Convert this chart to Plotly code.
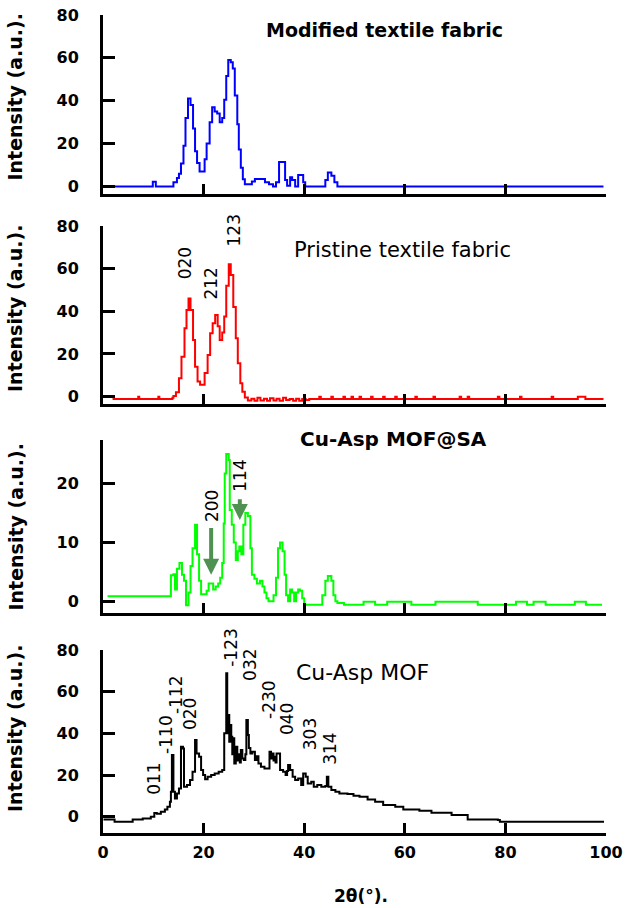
import plotly.graph_objects as go

# ---------------- data ----------------
blue_x = [1.9, 9.9, 10.5, 13.5, 14.0, 14.7, 15.1, 15.5, 16.0, 16.4, 16.9, 17.4, 17.9, 18.3, 18.7,
          19.2, 19.8, 20.2, 20.6, 21.2, 21.7, 22.2, 22.7, 23.2, 23.7, 24.1, 24.5, 24.9, 25.4, 25.8,
          26.2, 26.7, 27.0, 27.4, 27.8, 28.2, 29.0, 29.6, 30.2, 31.4, 32.2, 33.0, 33.8, 34.4, 35.0,
          35.8, 36.2, 36.6, 37.2, 37.6, 38.2, 38.8, 39.4, 39.8, 40.2, 43.8, 44.2, 44.7, 45.4, 46.0,
          46.6, 99.5]
blue_y = [0, 2.2, 0, 0, 2, 4, 6, 10.7, 19, 32, 41, 38, 27, 16.5, 11,
          7, 7, 12.7, 20, 30, 37, 35, 34, 30, 32, 40.5, 51.6, 59, 58, 55,
          42.5, 29, 17.3, 8.8, 3.4, 1, 1, 2.3, 3.5, 3.5, 2, 1, 0, 2, 11.4,
          11.4, 3, 0.3, 4.3, 3, 0, 5.4, 5.4, 2, 0, 0, 3, 6.5, 5, 2,
          0, 0]

red_x = [1.9, 7.0, 7.2, 11.0, 11.2, 13.8, 14.0, 14.5, 15.1, 15.6, 16.2, 16.6, 17.0, 17.4, 17.9,
         18.3, 18.8, 19.3, 20.2, 20.8, 21.3, 21.8, 22.3, 22.8, 23.2, 23.7, 24.1, 24.5, 25.0, 25.4,
         25.9, 26.4, 26.8, 27.3, 27.7, 28.2, 28.8, 29.5, 30.1, 30.7, 31.3, 32.0, 32.6, 33.2, 33.9,
         34.5, 35.1, 35.8, 36.4, 37.1, 37.8, 38.4, 39.0, 39.6, 40.3, 41.0, 43.0, 43.3, 45.4, 45.7,
         47.8, 48.1, 49.4, 49.7, 51.0, 51.3, 53.3, 53.6, 55.7, 56.0, 58.1, 58.4, 62.1, 62.4, 65.7,
         66.0, 70.9, 71.2, 72.5, 72.8, 78.5, 78.8, 82.9, 83.2, 89.2, 89.5, 94.4, 95.6, 95.9, 99.5]
red_y = [-1.2, -0.1, -1.2, -0.1, -1.2, -0.6, 0.2, 2, 8.6, 18.7, 32, 40.6, 46, 40.6, 26.5,
         14, 7, 5.5, 11, 19.5, 29.7, 34.4, 38.3, 33, 26.5, 30, 37.5, 52, 62, 57,
         42, 27.3, 15.6, 6.2, 2.3, -0.5, -1.8, -1, -2, -0.6, -1.8, -1, -2, -0.8, -1.8,
         -1, -2, -0.6, -1.6, -1.2, -2, -1, -2, -1.2, -1.6, -1.2, -0.1, -1.2, -0.1, -1.2,
         -0.1, -1.2, -0.1, -1.2, -0.1, -1.2, -0.1, -1.2, -0.1, -1.2, -0.1, -1.2, -0.1, -1.2, -0.1,
         -1.2, -0.1, -1.2, -0.1, -1.2, -0.1, -1.2, -0.1, -1.2, -0.1, -1.2, -0.1, -0.1, -1.2, -1.2]

green_x = [0.9, 13.2, 13.5, 14.0, 14.3, 14.7, 15.2, 15.7, 16.1, 16.5, 17.0, 17.4, 17.8, 18.3, 18.7,
           19.1, 19.5, 20.2, 20.6, 21.0, 21.5, 21.9, 22.4, 22.9, 23.3, 23.7, 24.0, 24.2, 24.5, 25.0,
           25.2, 25.6, 26.0, 26.4, 26.8, 27.1, 27.5, 27.9, 28.3, 28.8, 29.3, 29.6, 30.1, 30.6, 31.2,
           31.7, 32.1, 32.5, 32.9, 33.9, 34.4, 34.8, 35.2, 35.7, 36.1, 36.4, 36.8, 37.2, 37.6, 38.0,
           38.4, 38.8, 39.2, 39.6, 40.0, 43.0, 43.6, 44.2, 44.7, 45.4, 45.8, 46.2, 46.6, 47.9, 51.4,
           51.8, 53.7, 54.1, 56.1, 56.5, 60.9, 61.3, 65.7, 66.1, 74.1, 74.5, 81.7, 82.1, 83.7, 84.3,
           85.2, 85.6, 87.6, 88.0, 93.4, 93.8, 95.6, 96.0, 99.2]
green_y = [0.85, 0.85, 4.4, 4.6, 2, 5.5, 6.5, 4.5, 3.5, -0.7, 1.5, 6, 9, 13, 8,
           3.5, 1.2, 1.2, 1.8, 3, 3, 2, 2.5, 3, 4, 6.5, 13.2, 21.7, 25, 24,
           15.5, 13, 10, 7, 8.5, 9.3, 8, 13, 15, 14.5, 9, 4.5, 3.8, 3, 3.5,
           2.5, 1.5, 0.5, 0, 1, 4, 9, 10, 8.5, 4.5, 1, 0, 2, 1.5, 0,
           1.5, 2, 1.8, 0.5, -0.6, -0.6, 1, 3.5, 4.3, 3.5, 1, 0, -0.3, -0.6, -0.6,
           -0.1, -0.1, -0.6, -0.6, -0.1, -0.1, -0.6, -0.6, -0.1, -0.1, -0.6, -0.6, -0.1, -0.1, -0.6,
           -0.6, -0.1, -0.1, -0.6, -0.6, -0.1, -0.1, -0.6, -0.6]

black_x = [0.1, 2.3, 5.9, 7.9, 9.5, 10.2, 10.7, 11.5, 12.3, 12.8, 13.3, 13.5, 13.7, 14.0, 14.3,
           14.7, 15.1, 15.5, 15.9, 16.1, 16.7, 17.3, 17.8, 18.3, 18.6, 19.1, 19.5, 19.9, 20.3, 20.8,
           21.5, 22.2, 23.0, 23.7, 24.1, 24.5, 24.7, 24.9, 25.1, 25.3, 25.5, 25.7, 25.9, 26.1, 26.4,
           26.7, 26.9, 27.2, 27.4, 27.7, 28.0, 28.3, 28.5, 28.8, 29.0, 29.3, 29.7, 30.2, 30.5, 30.9,
           31.4, 32.1, 32.8, 33.1, 33.4, 33.6, 33.9, 34.1, 34.3, 34.5, 34.8, 35.2, 35.8, 36.3, 36.6,
           36.8, 37.2, 37.7, 38.2, 38.8, 39.4, 39.8, 40.3, 40.7, 41.4, 41.9, 42.6, 43.4, 44.2, 44.5,
           44.8, 45.4, 46.2, 47.0, 48.6, 49.8, 51.0, 52.6, 54.1, 55.7, 58.1, 59.7, 62.9, 65.3, 69.3,
           72.5, 78.5, 78.9, 99.6]
black_y = [-1.3, -2.4, -1.3, -0.8, 0, 1.8, 1.4, 2.4, 3.5, 4.8, 7.2, 12, 29.6, 12, 8.8,
           11.2, 13.6, 33.6, 32.8, 14.4, 15.2, 17.6, 21.6, 36.8, 30.4, 28.8, 22.4, 20, 18, 19.2,
           20, 20.8, 21.6, 22.4, 40, 68.8, 40, 48.8, 36, 44, 38.4, 30, 37.6, 25.6, 33.6,
           27, 30, 26, 32, 28, 27.2, 30, 46.4, 39.2, 33, 30.4, 31.2, 27.2, 29, 25.6,
           24, 23.2, 23.2, 31.2, 28, 30.4, 27, 28.8, 26, 30.4, 30.4, 22.4, 21.6, 20, 22,
           24.8, 22.4, 19.2, 17.6, 18.4, 15.2, 20.8, 19.2, 16, 16.8, 14.4, 15.2, 14.4, 14.7, 19.2,
           14.4, 12.8, 12, 11.2, 10.9, 10.1, 9.6, 8.3, 7.2, 5.6, 4.8, 3.5, 2.9, 1.9, 0.8,
           -1.3, -1.6, -2.4, -2.4]

panel_titles = ["Modified textile fabric", "Pristine textile fabric", "Cu-Asp MOF@SA", "Cu-Asp MOF"]

# peak (hkl) labels: text, 2theta, intensity at label centre
pristine_labels = ["020", "212", "123"]
pristine_lab_x = [16.3, 21.4, 26.0]
pristine_lab_y = [62.5, 52.8, 77.8]

sa_labels = ["200", "114"]
sa_lab_x = [21.7, 27.2]
sa_lab_y = [16.2, 21.3]
sa_arrow_x = [21.5, 27.2]
sa_arrow_from = [12.7, 17.6]
sa_arrow_to = [4.5, 13.8]

mof_labels = ["011", "-110", "-112", "020", "-123", "032", "-230", "040", "303", "314"]
mof_lab_x = [10.1, 12.5, 14.5, 17.3, 25.5, 29.2, 33.0, 36.6, 41.2, 45.1]
mof_lab_y = [18.1, 39.7, 58.9, 49.3, 81.2, 72.8, 56.5, 46.9, 39.7, 32.5]

x_ticks = [0, 20, 40, 60, 80, 100]
y_ticks = [[0, 20, 40, 60, 80], [0, 20, 40, 60, 80], [0, 10, 20], [0, 20, 40, 60, 80]]
y_ranges = [[-3.5, 80], [-3.5, 80], [-2.0, 27.4], [-7.8, 80]]

# ---------------- layout geometry (window pixels) ----------------
W, H = 629, 908
FONT = "DejaVu Sans"
X_LEFT, X_RIGHT = 103, 606
PANEL_PX = [(15, 194), (226, 404), (440, 613), (650, 833)]   # (top, bottom)
TITLE_PX = [(384, 30, True, 19), (402, 250, False, 21), (393, 439, True, 20), (362, 672, False, 22)]
YTITLE_Y = [97.5, 309, 527.5, 729]


def px(xp):
    return xp / W


def py(yp):
    return 1 - yp / H


fig = go.Figure()
series = [(blue_x, blue_y, "#0000ff"), (red_x, red_y, "#ff0000"),
          (green_x, green_y, "#00ff00"), (black_x, black_y, "#000000")]
for i, (xs, ys, col) in enumerate(series):
    n = "" if i == 0 else str(i + 1)
    fig.add_trace(go.Scatter(x=xs, y=ys, mode="lines", line=dict(color=col, width=2, shape="hv"),
                             xaxis="x" + n, yaxis="y" + n, showlegend=False, hoverinfo="skip"))

layout = dict(width=W, height=H, margin=dict(l=0, r=0, t=0, b=0),
              paper_bgcolor="white", plot_bgcolor="white", showlegend=False)
for i in range(4):
    n = "" if i == 0 else str(i + 1)
    top, bot = PANEL_PX[i]
    layout["xaxis" + n] = dict(domain=[px(X_LEFT), px(X_RIGHT)], range=[0, 100], anchor="y" + n,
                               showgrid=False, zeroline=False, showline=True, linecolor="black",
                               linewidth=3, ticks="inside", ticklen=10, tickwidth=3,
                               tickcolor="black", tickvals=x_ticks,
                               showticklabels=(i == 3), ticklabelstandoff=3,
                               ticklabeloverflow="allow",
                               tickfont=dict(family=FONT, size=16, color="black", weight="bold"),
                               automargin=False, fixedrange=True)
    layout["yaxis" + n] = dict(domain=[py(bot), py(top)], range=y_ranges[i], anchor="x" + n,
                               showgrid=False, zeroline=False, showline=True, linecolor="black",
                               linewidth=3, ticks="inside", ticklen=12, tickwidth=3,
                               tickcolor="black", tickvals=y_ticks[i], ticklabelstandoff=18,
                               ticklabeloverflow="allow",
                               tickfont=dict(family=FONT, size=16, color="black", weight="bold"),
                               automargin=False, fixedrange=True)
fig.update_layout(**layout)

ann = []
for i in range(4):
    tx, ty, bold, size = TITLE_PX[i]
    ann.append(dict(x=px(tx), y=py(ty), xref="paper", yref="paper", text=panel_titles[i],
                    showarrow=False, xanchor="center", yanchor="middle",
                    font=dict(family=FONT, size=size, color="black",
                              weight="bold" if bold else "normal")))
    ann.append(dict(x=px(15), y=py(YTITLE_Y[i]), xref="paper", yref="paper",
                    text="Intensity (a.u.).", textangle=-90, showarrow=False,
                    xanchor="center", yanchor="middle",
                    font=dict(family=FONT, size=19, color="black", weight="bold")))

ann.append(dict(x=px(361), y=py(896), xref="paper", yref="paper", text="2θ(°).", showarrow=False,
                xanchor="center", yanchor="middle",
                font=dict(family=FONT, size=17, color="black", weight="bold")))


def peak_labels(texts, xs, ys, n, ymax):
    for t, xv, yv in zip(texts, xs, ys):
        # keep the anchor inside the axis range, shift the text in pixels if needed
        yin = min(yv, ymax)
        lo, hi = y_ranges[int(n) - 1]
        top, bot = PANEL_PX[int(n) - 1]
        shift = (yv - yin) * (bot - top) / (hi - lo)
        ann.append(dict(x=xv, y=yin, xref="x" + n, yref="y" + n, text=t, textangle=-90,
                        showarrow=False, xanchor="center", yanchor="middle", yshift=shift,
                        font=dict(family=FONT, size=17, color="black")))


peak_labels(pristine_labels, pristine_lab_x, pristine_lab_y, "2", 79)
peak_labels(sa_labels, sa_lab_x, sa_lab_y, "3", 27)
peak_labels(mof_labels, mof_lab_x, mof_lab_y, "4", 79)

for xv, y0, y1 in zip(sa_arrow_x, sa_arrow_from, sa_arrow_to):
    ann.append(dict(x=xv, y=y1, ax=xv, ay=y0, xref="x3", yref="y3", axref="x3", ayref="y3",
                    text="", showarrow=True, arrowhead=2, arrowsize=0.8, arrowwidth=4,
                    arrowcolor="#4f9150"))

fig.update_layout(annotations=ann)
# remove the default page margin so the figure fills the window exactly
fig.write_html("out.html", config={"displayModeBar": False},
               post_script="document.body.style.margin='0px';")
